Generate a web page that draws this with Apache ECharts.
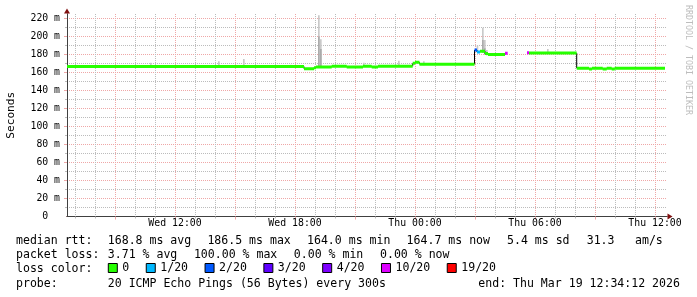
<!DOCTYPE html>
<html><head><meta charset="utf-8">
<script src="https://cdn.jsdelivr.net/npm/echarts@6/dist/echarts.min.js"></script>
<style>html,body{margin:0;padding:0;background:#fff}#c{width:697px;height:297px}</style>
</head><body><div id="c"></div>
<script>
// ---- data (hours since Wed 00:00) ----
const medianHours  = [6.6, 18.45, 18.95, 19.05, 19.835, 20.585, 21.4, 21.835, 22.15, 23.885, 24.0, 24.225,
                      26.975, 27.1, 27.25, 27.5, 27.65, 28.5, 28.635, 29.6, 29.7, 32.085, 32.7, 32.85,
                      33.385, 33.585, 33.835, 33.985, 36.5];
const medianValues = [166.7, 164.3, 165.4, 166.1, 166.9, 166.1, 166.9, 166.1, 166.9, 170.2, 171.3, 169.1,
                      185.0, 182.8, 183.6, 181.0, 180.0, 181.3, null, 181.9, 181.7, 164.8, 164.0, 164.8,
                      164.0, 164.8, 164.0, 164.8, 164.8];
const lossCounts   = [0,0,0,0,0,0,0,0,0,0,0,0, 2,1,0,0,0,10,20,10,0,0,0,0, 0,0,0,0,0];

const smokeHours    = [10.75, 14.15, 15.4, 17.75, 19.15, 19.25, 21.4, 23.15, 24.4, 27.08, 27.35, 27.45, 27.55, 30.6];
const smokeLow      = [166, 166, 166, 166, 166, 166, 166, 168, 168, 182, 182, 180, 179, 181];
const smokeHigh     = [170.7, 172.5, 175.0, 168.6, 223.5, 197, 170.7, 173, 172.5, 190, 209.6, 196, 185, 186];
const smokeCoreLow  = [null, null, null, null, 166, 166, null, null, null, null, 182, 180, null, null];
const smokeCoreHigh = [null, null, null, null, 200, 186, null, null, null, null, 196, 187, null, null];
const smokeStepHours = 5 / 60;

const lossThresholds = [0, 1, 2, 3, 4, 10, 19];
const lossLabels     = ['0', '1/20', '2/20', '3/20', '4/20', '10/20', '19/20'];
const lossColors     = ['#26ff00', '#00b8ff', '#0059ff', '#5e00ff', '#7e00ff', '#dd00ff', '#ff0000'];

const xLabelHours = [12, 18, 24, 30, 36];
const xMajorHours = [9, 12, 15, 18, 21, 24, 27, 30, 33, 36];
const xMinorHours = [7, 8, 10, 11, 13, 14, 16, 17, 19, 20, 22, 23, 25, 26, 28, 29, 31, 32, 34, 35];
const yLabelValues = [0, 20, 40, 60, 80, 100, 120, 140, 160, 180, 200, 220];
const yMajorValues = [20, 40, 60, 80, 100, 120, 140, 160, 180, 200, 220];
const yMinorValues = [10, 30, 50, 70, 90, 110, 130, 150, 170, 190, 210];

// ---- build ----
const MONO = 'DejaVu Sans Mono';
const GRID_MINOR = '#bcbcbc';
const GRID_MAJOR = '#efa7a7';

function bucketOf(loss) {
  let b = -1;
  for (let k = 0; k < lossThresholds.length; k++) if (loss >= lossThresholds[k]) b = k;
  return b;
}
const bucketData = lossLabels.map(() => []);
for (let i = 0; i < medianHours.length - 1; i++) {
  const v = medianValues[i];
  if (v == null) continue;
  const b = bucketOf(lossCounts[i]);
  bucketData[b].push([medianHours[i], v], [medianHours[i + 1], v], [medianHours[i + 1], '-']);
}
// black connectors where the median changes level
const connectorData = [];
for (let i = 1; i < medianHours.length; i++) {
  const a = medianValues[i - 1], b = medianValues[i];
  if (a == null || b == null || a === b) continue;
  connectorData.push([medianHours[i], a], [medianHours[i], b], [medianHours[i], '-']);
}
const smokeOuter = smokeHours.map((h, i) => [h, smokeLow[i], smokeHigh[i]]);
const smokeInner = smokeHours.map((h, i) => [h, smokeCoreLow[i], smokeCoreHigh[i]]).filter(d => d[1] != null);

function smokeRender(params, api) {
  const t = api.value(0), lo = api.value(1), hi = api.value(2);
  const p1 = api.coord([t, hi]);
  const p2 = api.coord([t + smokeStepHours, lo]);
  return { type: 'rect', shape: { x: p1[0], y: p1[1], width: p2[0] - p1[0], height: p2[1] - p1[1] },
           style: { fill: api.visual('color') } };
}

const X_MIN = 6.6, X_MAX = 36.6, Y_MIN = 0, Y_MAX = 225;
const baseX = { type: 'value', min: X_MIN, max: X_MAX, position: 'bottom', gridIndex: 0 };
const baseY = { type: 'value', min: Y_MIN, max: Y_MAX, position: 'left', gridIndex: 0 };
const off = { show: false };

const option = {
  animation: false,
  backgroundColor: '#ffffff',
  grid: { left: 67, right: 30, top: 14, bottom: 80.5, containLabel: false, outerBoundsMode: 'none' },
  xAxis: [
    Object.assign({}, baseX, { axisLine: { show: true, onZero: false, lineStyle: { color: '#801010' },
        symbol: ['none', 'triangle'], symbolSize: [6, 5], symbolOffset: [0, 3] },
      axisTick: off, axisLabel: off, splitLine: off }),
    Object.assign({}, baseX, { axisLine: { show: false, onZero: false },
      axisTick: { show: true, customValues: xMinorHours, length: 2, lineStyle: { color: GRID_MINOR } },
      axisLabel: off, splitLine: { show: true, lineStyle: { color: GRID_MINOR, type: [1, 1] } } }),
    Object.assign({}, baseX, { axisLine: { show: false, onZero: false },
      axisTick: { show: true, customValues: xMajorHours, length: 3, lineStyle: { color: GRID_MAJOR } },
      axisLabel: off, splitLine: { show: true, lineStyle: { color: GRID_MAJOR, type: [1, 1] } } }),
    Object.assign({}, baseX, { axisLine: { show: true, onZero: false, lineStyle: { color: '#404040' } },
      axisTick: off, splitLine: off,
      axisLabel: { show: true, customValues: xLabelHours, margin: 2, fontFamily: MONO, fontSize: 9.85, color: '#000',
        formatter: v => (v < 24 ? 'Wed ' : 'Thu ') + String(v % 24).padStart(2, '0') + ':00' } })
  ],
  yAxis: [
    Object.assign({}, baseY, { axisLine: { show: true, onZero: false, lineStyle: { color: '#801010' },
        symbol: ['none', 'triangle'], symbolSize: [6, 5], symbolOffset: [0, 3] },
      axisTick: off, axisLabel: off, splitLine: off }),
    Object.assign({}, baseY, { axisLine: { show: false, onZero: false },
      axisTick: { show: true, customValues: yMinorValues, length: 2, lineStyle: { color: GRID_MINOR } },
      axisLabel: off, splitLine: { show: true, lineStyle: { color: GRID_MINOR, type: [1, 1] } } }),
    Object.assign({}, baseY, { axisLine: { show: false, onZero: false },
      axisTick: { show: true, customValues: yMajorValues, length: 3, lineStyle: { color: GRID_MAJOR } },
      axisLabel: off, splitLine: { show: true, lineStyle: { color: GRID_MAJOR, type: [1, 1] } } }),
    Object.assign({}, baseY, { axisLine: { show: true, onZero: false, lineStyle: { color: '#404040' } },
      axisTick: off, splitLine: off,
      name: 'Seconds', nameLocation: 'middle', nameGap: 50,
      nameTextStyle: { fontFamily: MONO, fontSize: 11.2, color: '#000' },
      axisLabel: { show: true, customValues: yLabelValues, margin: 7, fontFamily: MONO, fontSize: 9.8, color: '#000',
        formatter: v => (v === 0 ? '0  ' : v + ' m') } })
  ],
  legend: {
    data: lossLabels, left: 107.8, top: 262, padding: 0, orient: 'horizontal',
    icon: 'rect', itemWidth: 9, itemHeight: 9, itemGap: 16.5, selectedMode: false,
    itemStyle: { borderColor: '#000', borderWidth: 1 },
    textStyle: { fontFamily: MONO, fontSize: 11.55, color: '#000' }
  },
  graphic: [
    { type: 'text', x: 688, y: 60, rotation: -Math.PI / 2,
      style: { text: 'RRDTOOL / TOBI OETIKER', font: '8.3px ' + MONO, fill: '#bdbdbd', align: 'center', verticalAlign: 'middle' } },
    ...[
      [16, 241.3, 'median rtt:'], [107.8, 241.3, '168.8 ms avg'], [207.4, 241.3, '186.5 ms max'],
      [307.0, 241.3, '164.0 ms min'], [406.6, 241.3, '164.7 ms now'], [507.0, 241.3, '5.4 ms sd'],
      [586.7, 241.3, '31.3'], [635, 241.3, 'am/s'],
      [16, 255.3, 'packet loss:'], [107.8, 255.3, '3.71 % avg'], [193.9, 255.3, '100.00 % max'],
      [293.8, 255.3, '0.00 % min'], [380, 255.3, '0.00 % now'],
      [16, 268.7, 'loss color:'],
      [16, 283.7, 'probe:'], [107.8, 283.7, '20 ICMP Echo Pings (56 Bytes) every 300s'],
      [478.3, 283.7, 'end: Thu Mar 19 12:34:12 2026']
    ].map(([x, y, t]) => ({ type: 'text', x: x, y: y,
      style: { text: t, font: '11.55px ' + MONO, fill: '#000', align: 'left', verticalAlign: 'middle' } }))
  ],
  series: [
    { type: 'custom', name: 'smoke', xAxisIndex: 3, yAxisIndex: 3, renderItem: smokeRender,
      data: smokeOuter, encode: { x: 0, y: [1, 2] }, itemStyle: { color: '#c9c9c9' }, clip: true, zlevel: 1, z: 1, silent: true },
    { type: 'custom', name: 'smokecore', xAxisIndex: 3, yAxisIndex: 3, renderItem: smokeRender,
      data: smokeInner, encode: { x: 0, y: [1, 2] }, itemStyle: { color: '#ababab' }, clip: true, zlevel: 1, z: 2, silent: true },
    { type: 'line', name: 'median', xAxisIndex: 3, yAxisIndex: 3, data: connectorData,
      showSymbol: false, symbol: 'none', connectNulls: false, lineStyle: { color: '#000', width: 1 }, zlevel: 1, z: 3, silent: true },
    ...lossLabels.map((lab, k) => ({
      type: 'line', name: lab, xAxisIndex: 3, yAxisIndex: 3, data: bucketData[k],
      showSymbol: false, symbol: 'none', connectNulls: false, color: lossColors[k],
      itemStyle: { color: lossColors[k] }, lineStyle: { color: lossColors[k], width: 3, cap: 'butt' }, zlevel: 1, z: 4, silent: true
    }))
  ]
};
const chart = echarts.init(document.getElementById('c'), null, { renderer: 'canvas' });
chart.setOption(option);
</script>
</body></html>
